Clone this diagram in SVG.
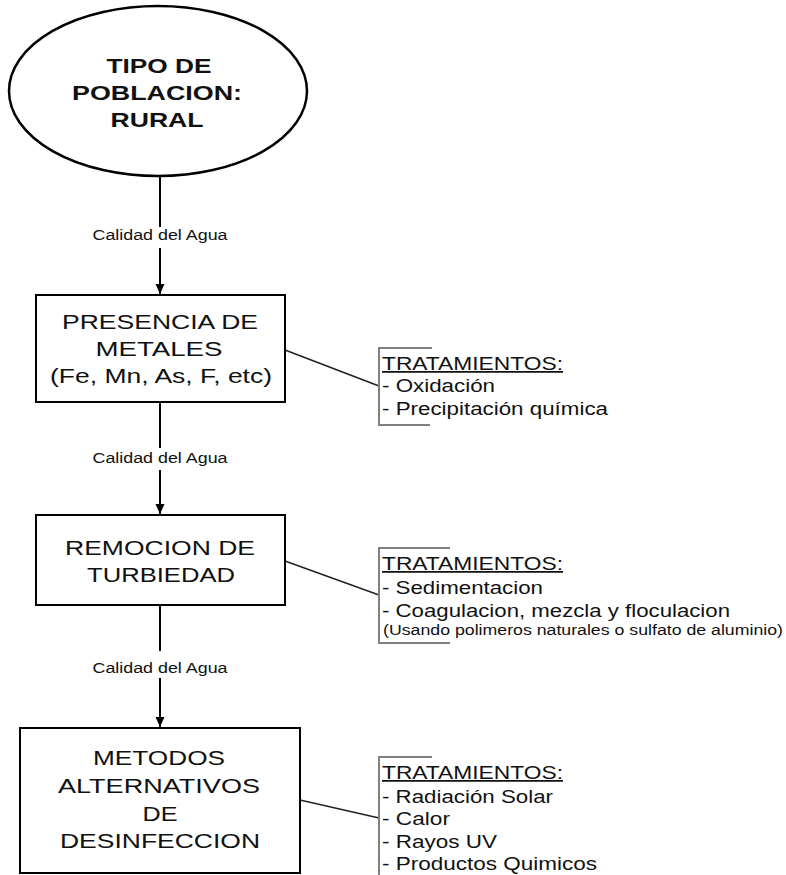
<svg xmlns="http://www.w3.org/2000/svg" width="786" height="875" viewBox="0 0 786 875">
<defs>
<style>
.node{fill:#fff;stroke:#000;stroke-width:2}
.nt{font-family:"Liberation Sans",Arial,sans-serif;font-size:21px;fill:#111;text-anchor:middle}
.bold{font-weight:bold}
.lbl{font-family:"Liberation Sans",Arial,sans-serif;font-size:14px;fill:#111;text-anchor:middle}
.tt{font-family:"Liberation Sans",Arial,sans-serif;font-size:17.5px;fill:#111}
.small{font-size:14px}
.edge{fill:none;stroke:#000;stroke-width:2}
.link{fill:none;stroke:#222;stroke-width:1.6}
.brk{fill:none;stroke:#808080;stroke-width:2}
</style>
<marker id="arr" markerUnits="userSpaceOnUse" markerWidth="10" markerHeight="10" refX="10" refY="5" orient="auto">
<path d="M0,0.5 L10,5 L0,9.5 z" fill="#000"/>
</marker>
</defs>
<rect width="786" height="875" fill="#fff"/>

<g id="connectors">
<path class="edge" d="M160,177 V227 M160,248 V294" marker-end="url(#arr)"/>
<text class="lbl" x="160" y="240" textLength="135" lengthAdjust="spacingAndGlyphs">Calidad del Agua</text>
<path class="edge" d="M160,402 V448 M160,470 V514" marker-end="url(#arr)"/>
<text class="lbl" x="160" y="463" textLength="135" lengthAdjust="spacingAndGlyphs">Calidad del Agua</text>
<path class="edge" d="M160,605 V651 M160,678 V727" marker-end="url(#arr)"/>
<text class="lbl" x="160" y="673" textLength="135" lengthAdjust="spacingAndGlyphs">Calidad del Agua</text>
<path class="link" d="M285,350 L379,386"/>
<path class="link" d="M285,561 L379,595"/>
<path class="link" d="M300,800 L379,818"/>
</g>

<g id="n-tipo">
<ellipse class="node" cx="158" cy="91" rx="149" ry="85" style="stroke-width:2.5"/>
<text class="nt bold" x="159" y="73" textLength="105" lengthAdjust="spacingAndGlyphs">TIPO DE</text>
<text class="nt bold" x="157" y="100" textLength="170" lengthAdjust="spacingAndGlyphs">POBLACION:</text>
<text class="nt bold" x="157" y="127" textLength="93" lengthAdjust="spacingAndGlyphs">RURAL</text>
</g>

<g id="n-metales">
<rect class="node" x="36" y="295" width="249" height="107"/>
<text class="nt" x="160" y="329" textLength="196" lengthAdjust="spacingAndGlyphs">PRESENCIA DE</text>
<text class="nt" x="159" y="356" textLength="127" lengthAdjust="spacingAndGlyphs">METALES</text>
<text class="nt" x="161" y="383" textLength="222" lengthAdjust="spacingAndGlyphs">(Fe, Mn, As, F, etc)</text>
</g>

<g id="n-turbiedad">
<rect class="node" x="36" y="515" width="249" height="90"/>
<text class="nt" x="160" y="555" textLength="190" lengthAdjust="spacingAndGlyphs">REMOCION DE</text>
<text class="nt" x="161" y="582" textLength="148" lengthAdjust="spacingAndGlyphs">TURBIEDAD</text>
</g>

<g id="n-desinfeccion">
<rect class="node" x="20" y="728" width="280" height="145"/>
<text class="nt" x="159" y="765" textLength="132" lengthAdjust="spacingAndGlyphs">METODOS</text>
<text class="nt" x="159" y="793" textLength="202" lengthAdjust="spacingAndGlyphs">ALTERNATIVOS</text>
<text class="nt" x="160" y="821" textLength="35" lengthAdjust="spacingAndGlyphs">DE</text>
<text class="nt" x="160" y="848" textLength="200" lengthAdjust="spacingAndGlyphs">DESINFECCION</text>
</g>

<g id="t-metales">
<path class="brk" d="M432,348 H379 V425 H430"/>
<text class="tt" x="382" y="370" textLength="181" lengthAdjust="spacingAndGlyphs" text-decoration="underline">TRATAMIENTOS:</text>
<text class="tt" x="382" y="392" textLength="113" lengthAdjust="spacingAndGlyphs">- Oxidación</text>
<text class="tt" x="382" y="415" textLength="226" lengthAdjust="spacingAndGlyphs">- Precipitación química</text>
</g>

<g id="t-turbiedad">
<path class="brk" d="M450,548 H379 V643 H450"/>
<text class="tt" x="382" y="570" textLength="181" lengthAdjust="spacingAndGlyphs" text-decoration="underline">TRATAMIENTOS:</text>
<text class="tt" x="382" y="594" textLength="161" lengthAdjust="spacingAndGlyphs">- Sedimentacion</text>
<text class="tt" x="382" y="617" textLength="348" lengthAdjust="spacingAndGlyphs">- Coagulacion, mezcla y floculacion</text>
<text class="tt small" x="383" y="635" textLength="400" lengthAdjust="spacingAndGlyphs">(Usando polimeros naturales o sulfato de aluminio)</text>
</g>

<g id="t-desinfeccion">
<path class="brk" d="M432,757 H379 V880"/>
<text class="tt" x="382" y="779" textLength="181" lengthAdjust="spacingAndGlyphs" text-decoration="underline">TRATAMIENTOS:</text>
<text class="tt" x="382" y="803" textLength="171" lengthAdjust="spacingAndGlyphs">- Radiación Solar</text>
<text class="tt" x="382" y="825" textLength="68" lengthAdjust="spacingAndGlyphs">- Calor</text>
<text class="tt" x="382" y="848" textLength="115" lengthAdjust="spacingAndGlyphs">- Rayos UV</text>
<text class="tt" x="382" y="870" textLength="215" lengthAdjust="spacingAndGlyphs">- Productos Quimicos</text>
</g>
</svg>
